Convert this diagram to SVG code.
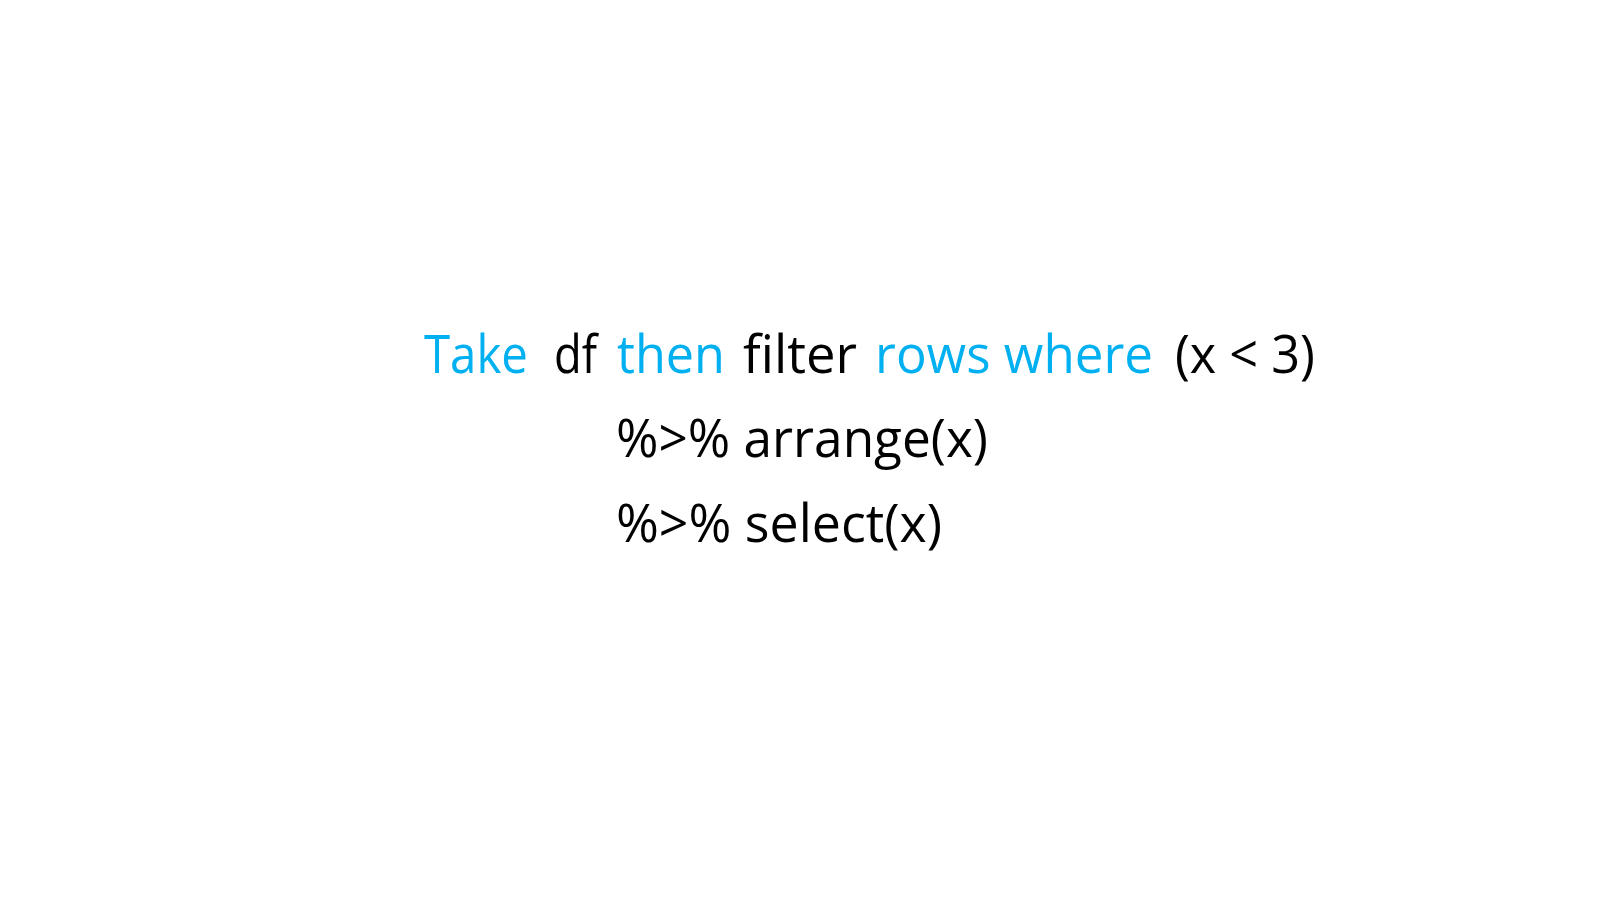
<svg xmlns="http://www.w3.org/2000/svg" width="1600" height="900" viewBox="0 0 1600 900">
<style>
text{font-family:"Open Sans","Noto Sans","Liberation Sans",sans-serif;font-size:53px;}
.k{fill:#000000;}
.b{fill:#00B0F0;}
</style>
<rect width="1600" height="900" fill="#ffffff"/>
<g id="line1">
<text class="b" x="424" y="373" textLength="104" lengthAdjust="spacingAndGlyphs">Take</text>
<text class="k" x="554" y="373" textLength="43" lengthAdjust="spacingAndGlyphs">df</text>
<text class="b" x="617" y="373" textLength="108" lengthAdjust="spacingAndGlyphs">then</text>
<text class="k" x="743" y="373" textLength="114" lengthAdjust="spacingAndGlyphs">filter</text>
<text class="b" x="875" y="373" textLength="278" lengthAdjust="spacingAndGlyphs">rows where</text>
<text class="k" x="1175" y="373" textLength="140" lengthAdjust="spacingAndGlyphs">(x &lt; 3)</text>
</g>
<g id="line2">
<text class="k" x="616" y="457" textLength="372" lengthAdjust="spacingAndGlyphs">%&gt;% arrange(x)</text>
</g>
<g id="line3">
<text class="k" x="616" y="542" textLength="326" lengthAdjust="spacingAndGlyphs">%&gt;% select(x)</text>
</g>
</svg>
